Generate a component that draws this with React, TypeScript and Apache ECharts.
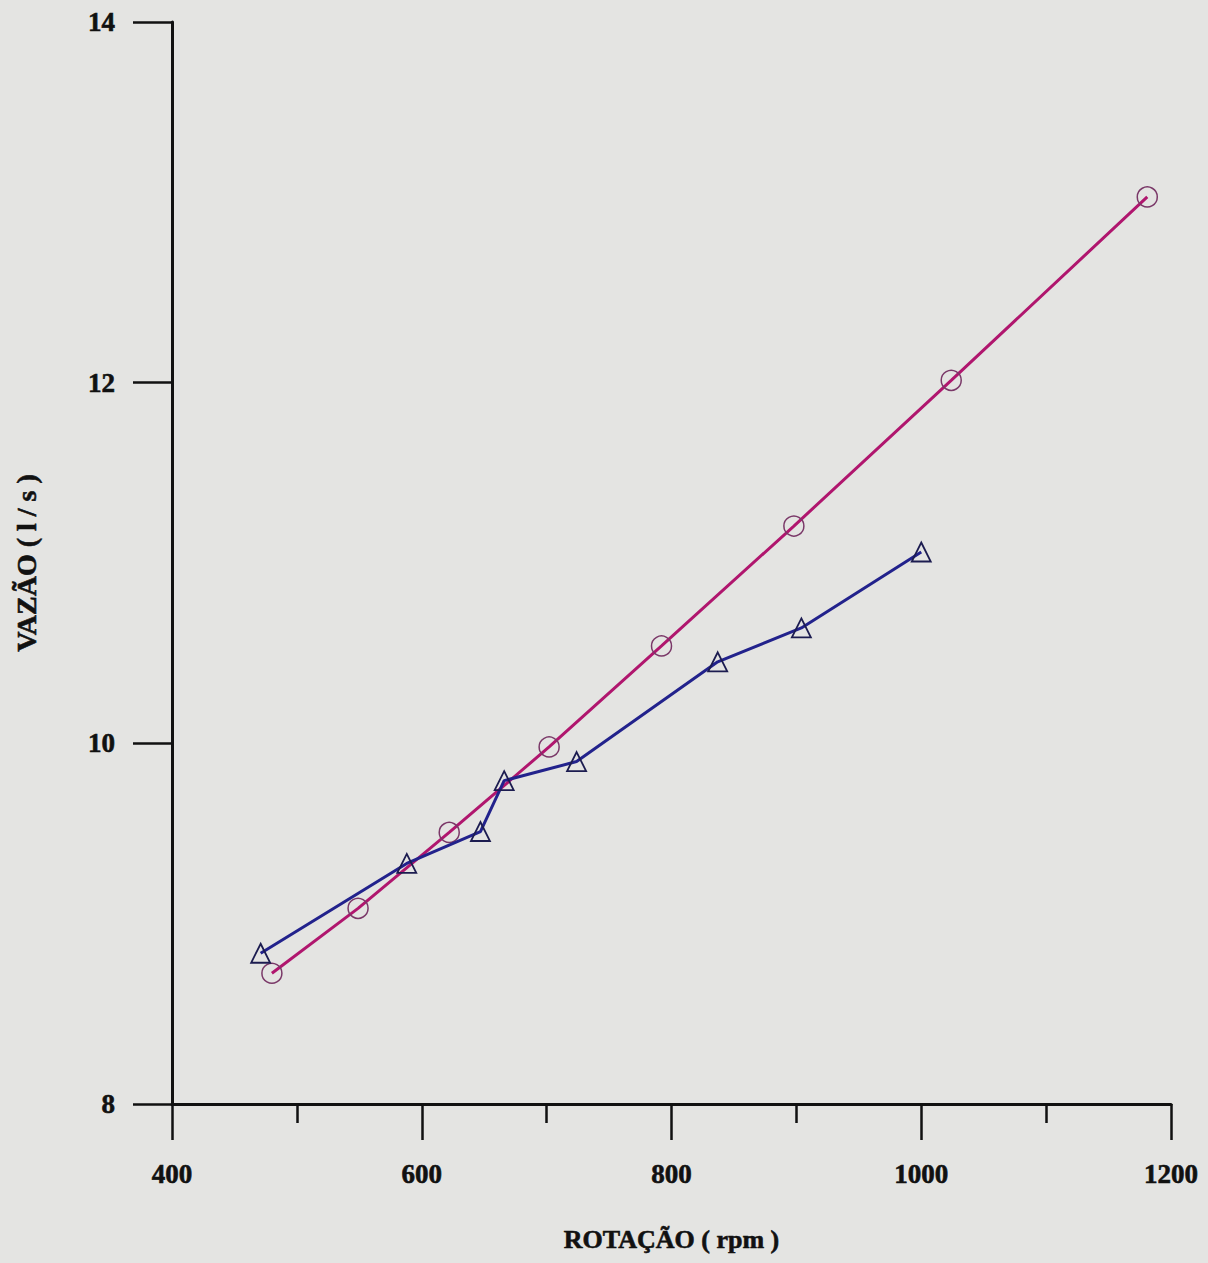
import React, { useEffect, useRef } from "react";
import * as echarts from "echarts";

// Rotação (rpm) vs Vazão (l/s)
const circleRpm = [480, 549, 622, 702, 792, 898, 1024, 1181];
const circleFlow = [8.725, 9.085, 9.506, 9.98, 10.54, 11.205, 12.013, 13.03];

const triangleRpm = [471, 588, 647, 666, 724, 837, 904, 1000];
const triangleFlow = [8.836, 9.334, 9.511, 9.793, 9.899, 10.452, 10.64, 11.061];

const xTitle = "ROTAÇÃO ( rpm )";
const yTitle = "VAZÃO ( l / s )";

const FONT = "'Liberation Serif', 'Times New Roman', serif";

const labelStyle = {
  fontFamily: FONT,
  fontWeight: "bold",
  fontSize: 27,
  color: "#111",
  textBorderColor: "#111",
  textBorderWidth: 0.6,
};

export default function App() {
  const ref = useRef<HTMLDivElement>(null);
  useEffect(() => {
    if (!ref.current) return;
    const chart = echarts.init(ref.current, null, { renderer: "svg" });
    const pairs = (xs: number[], ys: number[]) => xs.map((x, i) => [x, ys[i]]);
    chart.setOption({
      animation: false,
      backgroundColor: "#e4e4e2",
      grid: { left: 172, right: 37, top: 22, bottom: 159 },
      xAxis: {
        type: "value",
        min: 400,
        max: 1200,
        interval: 200,
        name: xTitle,
        nameLocation: "middle",
        nameGap: 122,
        nameTextStyle: { ...labelStyle, fontSize: 26 },
        axisLine: { onZero: false, lineStyle: { color: "#111", width: 3 } },
        axisTick: { show: true, length: 36, lineStyle: { color: "#111", width: 2.5 } },
        minorTick: { show: true, splitNumber: 2, length: 19, lineStyle: { color: "#111", width: 2.5 } },
        axisLabel: { ...labelStyle, margin: 56, formatter: (v: number) => String(v) },
        splitLine: { show: false },
      },
      yAxis: {
        type: "value",
        min: 8,
        max: 14,
        interval: 2,
        name: yTitle,
        nameLocation: "middle",
        nameGap: 132,
        nameTextStyle: { ...labelStyle, fontSize: 28 },
        axisLine: { onZero: false, lineStyle: { color: "#111", width: 3 } },
        axisTick: { show: true, length: 39, lineStyle: { color: "#111", width: 2.5 } },
        axisLabel: { ...labelStyle, margin: 57, formatter: (v: number) => String(v) },
        splitLine: { show: false },
      },
      series: [
        {
          type: "line",
          data: pairs(circleRpm, circleFlow),
          symbol: "circle",
          symbolSize: 20,
          lineStyle: { color: "#b0166e", width: 3 },
          itemStyle: { color: "rgba(0,0,0,0)", borderColor: "#7a3868", borderWidth: 1.5 },
          z: 2,
        },
        {
          type: "line",
          data: pairs(triangleRpm, triangleFlow),
          symbol: "triangle",
          symbolSize: 19,
          lineStyle: { color: "#22228c", width: 3 },
          itemStyle: { color: "rgba(0,0,0,0)", borderColor: "#1c1c50", borderWidth: 1.8 },
          z: 3,
        },
      ],
    });
    return () => chart.dispose();
  }, []);
  return (
    <div
      ref={ref}
      style={{ position: "fixed", left: 0, top: 0, width: 1208, height: 1263 }}
    />
  );
}
